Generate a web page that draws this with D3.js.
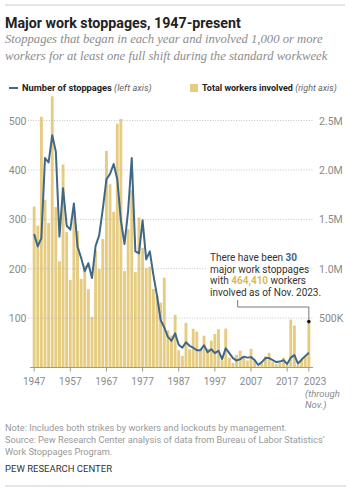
<!DOCTYPE html>
<html>
<head>
<meta charset="utf-8">
<script src="https://cdn.jsdelivr.net/npm/d3@7"></script>
<style>
  html, body { margin: 0; padding: 0; background: #fff; }
  svg { display: block; }
</style>
</head>
<body>
<svg id="chart" width="357" height="493" font-family="Roboto, 'Liberation Sans', sans-serif"></svg>
<script>
// ---------- DATA ----------
const years = [1947,1948,1949,1950,1951,1952,1953,1954,1955,1956,
  1957,1958,1959,1960,1961,1962,1963,1964,1965,1966,
  1967,1968,1969,1970,1971,1972,1973,1974,1975,1976,
  1977,1978,1979,1980,1981,1982,1983,1984,1985,1986,
  1987,1988,1989,1990,1991,1992,1993,1994,1995,1996,
  1997,1998,1999,2000,2001,2002,2003,2004,2005,2006,
  2007,2008,2009,2010,2011,2012,2013,2014,2015,2016,
  2017,2018,2019,2020,2021,2022,2023];

// Number of major work stoppages (left axis)
const stoppages = [270,245,262,424,415,470,437,265,363,287,
  279,332,245,222,195,211,181,246,268,321,
  381,392,412,381,298,250,317,424,235,231,
  298,219,235,187,145,96,81,62,54,69,
  46,40,51,44,40,35,35,45,31,37,
  29,34,17,39,29,19,14,17,22,20,
  21,15,5,11,19,19,15,11,12,15,
  7,20,25,8,16,23,30];

// Total workers involved, thousands (right axis)
const workersK = [1629,1435,2537,1698,1462,2746,1623,1075,2055,1370,
  887,1587,1381,896,1031,793,512,1183,999,1300,
  2192,1855,1576,2468,2516,975,1400,1796,965,1519,
  1212,1006,1021,795,729,656,909,376,324,533,
  174,118,452,185,392,364,182,322,192,273,
  339,387,73,394,99,46,129,171,100,70,
  189,72,13,45,113,148,55,34,47,99,
  25,485,425,27,81,120,464.41];

const leftTicks = [100,200,300,400,500];
const rightTicks = [500000,1000000,1500000,2000000,2500000];
const rightTickLabels = ["500K","1.0M","1.5M","2.0M","2.5M"];
const xTickYears = [1947,1957,1967,1977,1987,1997,2007,2017,2023];

// ---------- LAYOUT ----------
const svg = d3.select("#chart");
const plot = { left: 32.7, right: 310.3, top: 120.5, bottom: 367.5 };
const BLUE = "#3f6788", GOLD = "#e6cc80", GRAY = "#8a8a8a";
const SERIF = "'Liberation Serif', Georgia, 'DejaVu Serif', serif";

function fit(sel, target) {
  const node = sel.node();
  const fs = parseFloat(sel.attr("font-size"));
  const w = node.getComputedTextLength();
  const nfs = fs * target / w;
  sel.attr("font-size", nfs);
  return nfs;
}

// rules
svg.append("line").attr("x1",5).attr("x2",345).attr("y1",5).attr("y2",5)
  .attr("stroke","#dcdcdc").attr("stroke-width",1.5);
svg.append("line").attr("x1",5).attr("x2",346).attr("y1",486).attr("y2",486)
  .attr("stroke","#dcdcdc").attr("stroke-width",1.5);

// title
const title = svg.append("text").attr("x",5).attr("y",27.5)
  .attr("font-size",15).attr("font-weight","bold").attr("fill","#222")
  .text("Major work stoppages, 1947-present");
fit(title, 236);

// subtitle
const sub1 = svg.append("text").attr("x",5).attr("y",43)
  .attr("font-size",13).attr("font-style","italic")
  .attr("font-family",SERIF)
  .attr("fill","#8c8c8c")
  .text("Stoppages that began in each year and involved 1,000 or more");
const sfs = fit(sub1, 318);
svg.append("text").attr("x",5).attr("y",59.5)
  .attr("font-size",sfs).attr("font-style","italic")
  .attr("font-family",SERIF)
  .attr("fill","#8c8c8c")
  .text("workers for at least one full shift during the standard workweek");

// legend
svg.append("line").attr("x1",9).attr("x2",18).attr("y1",88).attr("y2",88)
  .attr("stroke",BLUE).attr("stroke-width",2);
const lg1 = svg.append("text").attr("x",22).attr("y",91.3).attr("font-size",9).attr("fill","#222");
lg1.append("tspan").attr("font-weight","bold").text("Number of stoppages ");
lg1.append("tspan").attr("font-style","italic").attr("fill","#666").text("(left axis)");
fit(lg1, 130);
svg.append("rect").attr("x",190).attr("y",84).attr("width",8).attr("height",8).attr("fill",GOLD);
const lg2 = svg.append("text").attr("x",202).attr("y",91.3).attr("font-size",9).attr("fill","#222");
lg2.append("tspan").attr("font-weight","bold").text("Total workers involved ");
lg2.append("tspan").attr("font-style","italic").attr("fill","#666").text("(right axis)");
fit(lg2, 135);

// scales
const x = d3.scaleBand().domain(years).range([plot.left, plot.right]).paddingInner(0.2).paddingOuter(0);
const xc = d => x(d) + x.bandwidth()/2;
const yL = d3.scaleLinear().domain([0,500]).range([plot.bottom, plot.top]);
const yR = d3.scaleLinear().domain([0,2500000]).range([plot.bottom, plot.top]);

// bars
svg.append("g").selectAll("rect").data(years).join("rect")
  .attr("x", (d) => x(d))
  .attr("width", x.bandwidth())
  .attr("y", (d,i) => yR(workersK[i]*1000))
  .attr("height", (d,i) => plot.bottom - yR(workersK[i]*1000))
  .attr("fill", GOLD);

// gridlines
const gridG = svg.append("g");
gridG.selectAll("line").data(leftTicks).join("line")
  .attr("x1",28).attr("x2",313)
  .attr("y1",d=>yL(d)).attr("y2",d=>yL(d))
  .attr("stroke","#b5b5b5").attr("stroke-width",0.8).attr("stroke-dasharray","1,1.6");

// left axis labels
const yAxisL = d3.axisLeft(yL).tickValues(leftTicks).tickSize(0).tickPadding(0);
const gL = svg.append("g").attr("transform",`translate(26.5,0)`).call(yAxisL)
  .attr("font-family",null).attr("font-size",null);
gL.select(".domain").remove();
gL.selectAll("text").attr("font-size",10.5).attr("fill",GRAY).attr("dy","0.35em");

// right axis labels
const yAxisR = d3.axisRight(yR).tickValues(rightTicks).tickSize(0).tickPadding(0)
  .tickFormat((d,i)=>rightTickLabels[i]);
const gR = svg.append("g").attr("transform",`translate(319,0)`).call(yAxisR)
  .attr("font-family",null).attr("font-size",null);
gR.select(".domain").remove();
gR.selectAll("text").attr("font-size",10.5).attr("fill",GRAY).attr("dy","0.35em");

// annotation backdrop (hides gridline behind text)
svg.append("rect").attr("x",206).attr("y",251).attr("width",100).attr("height",48).attr("fill","#fff");

// x axis
svg.append("line").attr("x1",30).attr("x2",313).attr("y1",plot.bottom).attr("y2",plot.bottom)
  .attr("stroke","#9a9a9a").attr("stroke-width",1);
const xAxis = d3.axisBottom(x).tickValues(xTickYears).tickSize(4).tickPadding(6);
const gX = svg.append("g").attr("transform",`translate(0,${plot.bottom})`).call(xAxis)
  .attr("font-family",null).attr("font-size",null);
gX.select(".domain").remove();
gX.selectAll(".tick line").attr("stroke","#9a9a9a");
gX.selectAll("text").attr("font-size",10).attr("fill",GRAY);
gX.selectAll(".tick").filter(d=>d===2023).select("text").attr("text-anchor","start").attr("dx",-5);
const thr = svg.append("text").attr("x",305).attr("y",397).attr("font-size",9.5)
  .attr("font-style","italic").attr("fill",GRAY);
thr.append("tspan").attr("x",305).text("(through");
thr.append("tspan").attr("x",305).attr("dy",11).text("Nov.)");

// line
const line = d3.line().x(d=>xc(d)).y((d,i)=>yL(stoppages[i])).curve(d3.curveLinear);
svg.append("path").datum(years).attr("d",line)
  .attr("fill","none").attr("stroke",BLUE).attr("stroke-width",2).attr("stroke-linejoin","round");

// annotation
const aX = 210;
const ann = svg.append("text").attr("font-size",10).attr("fill","#333");
const a1 = ann.append("tspan").attr("x",aX).attr("y",261);
a1.append("tspan").text("There have been ");
a1.append("tspan").attr("fill",BLUE).attr("font-weight","bold").text("30");
ann.append("tspan").attr("x",aX).attr("y",272.5).text("major work stoppages");
const a3 = ann.append("tspan").attr("x",aX).attr("y",284);
a3.append("tspan").text("with ");
a3.append("tspan").attr("fill","#d9b95c").attr("font-weight","bold").text("464,410");
a3.append("tspan").text(" workers");
ann.append("tspan").attr("x",aX).attr("y",295.5).text("involved as of Nov. 2023.");

const last = years.length-1;
svg.append("path")
  .attr("d",`M237.7,300V307H${xc(years[last])}V${yR(workersK[last]*1000)}`)
  .attr("fill","none").attr("stroke","#555").attr("stroke-width",0.8);
svg.append("circle").attr("cx",xc(years[last])).attr("cy",yR(workersK[last]*1000))
  .attr("r",1.8).attr("fill","#111");

// footer
const n1 = svg.append("text").attr("x",5).attr("y",431).attr("font-size",9.5).attr("fill","#999")
  .text("Note: Includes both strikes by workers and lockouts by management.");
const nfs = fit(n1, 282);
svg.append("text").attr("x",5).attr("y",443).attr("font-size",nfs).attr("fill","#999")
  .text("Source: Pew Research Center analysis of data from Bureau of Labor Statistics\u2019");
svg.append("text").attr("x",5).attr("y",455).attr("font-size",nfs).attr("fill","#999")
  .text("Work Stoppages Program.");
const pew = svg.append("text").attr("x",5).attr("y",472).attr("font-size",9.5).attr("fill","#333")
  .text("PEW RESEARCH CENTER");
fit(pew, 107);
</script>
</body>
</html>
